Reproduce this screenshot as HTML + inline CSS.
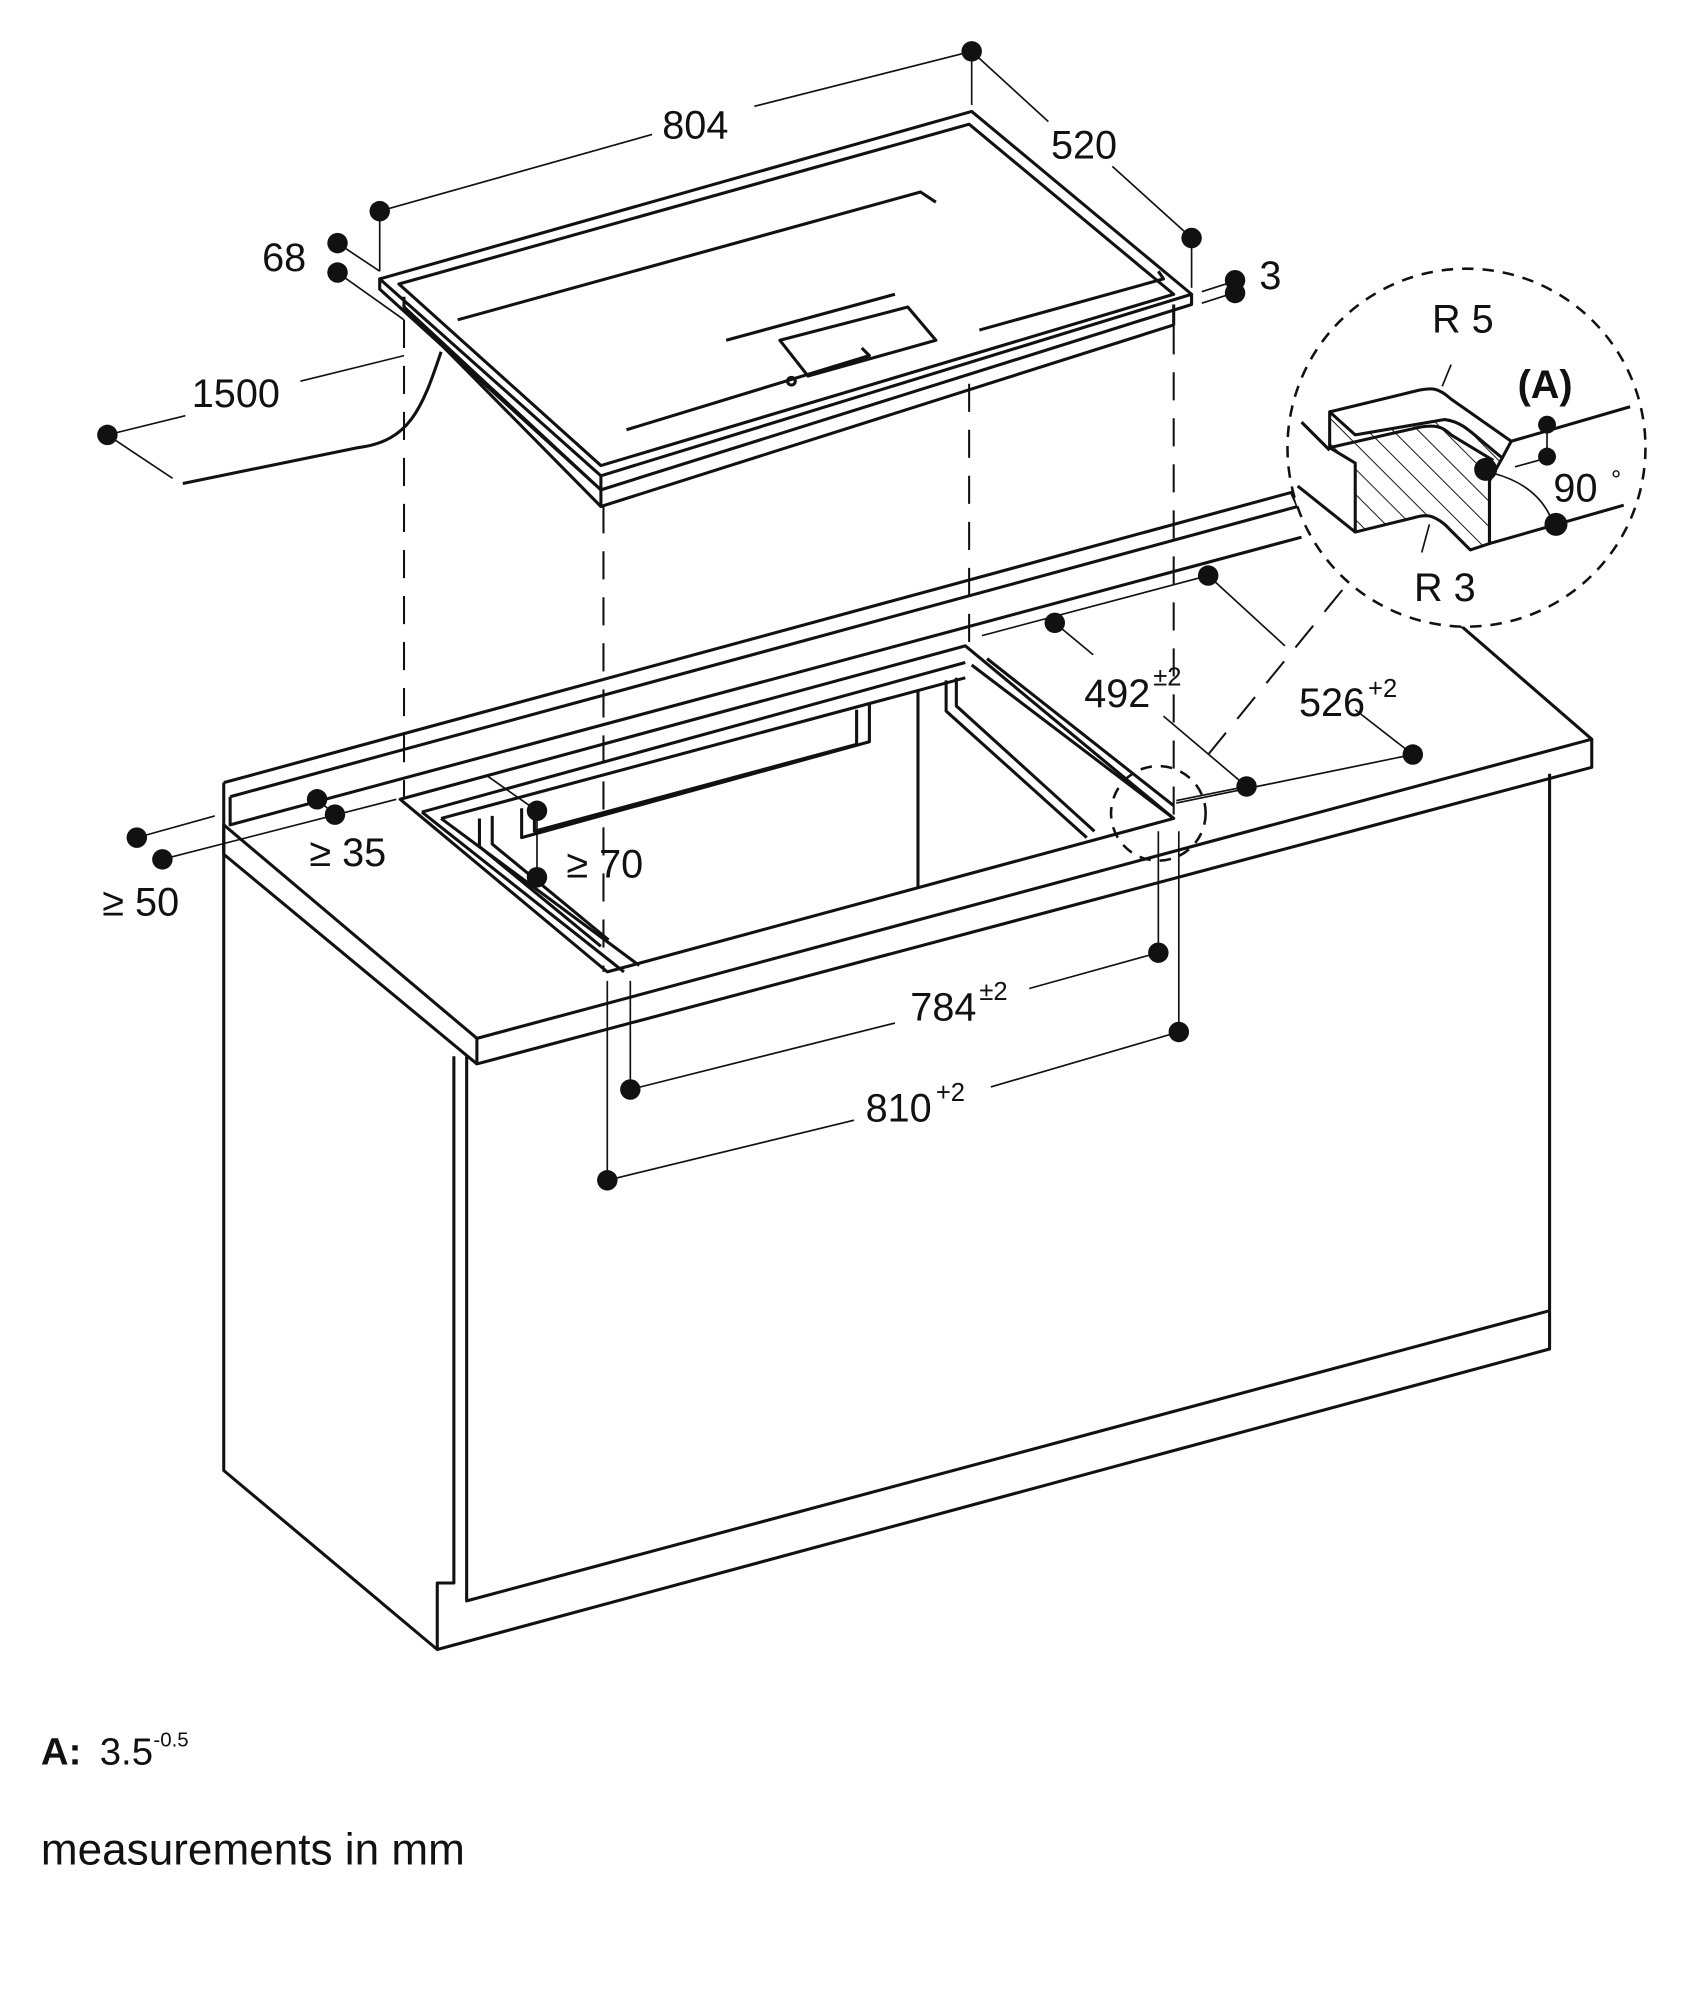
<!DOCTYPE html>
<html><head><meta charset="utf-8"><style>
html,body{margin:0;padding:0;background:#fff}
svg{display:block}
text{font-family:"Liberation Sans",sans-serif;fill:#111}
</style></head><body>
<svg width="1703" height="2000" viewBox="0 0 1332 1564" xmlns="http://www.w3.org/2000/svg">
<defs>
<pattern id="h" width="14" height="14" patternUnits="userSpaceOnUse" patternTransform="rotate(-45)">
<line x1="0" y1="0" x2="0" y2="14" stroke="#111" stroke-width="1.5"/></pattern>
</defs>
<g fill="none" stroke="#111" stroke-width="2.4" stroke-linejoin="round">
<polygon points="297,218 760,87 932,230 470,372" fill="#fff"/>
<polyline points="297,218 297,226 470,383 932,238 932,230"/>
<line x1="470" y1="372" x2="470" y2="383"/>
<polyline points="316,232 316,240 470,383"/>
<polygon points="312,222 758,97 918,230 470,364"/>
<polyline points="918,238 918,254 470,396 470,383"/>
<polyline points="316,240 470,396"/>
<polyline points="358,250 720,150 732,158"/>
<polyline points="490,336 680,278 674,272"/>
<polyline points="568,266 700,230"/>
<polyline points="766,258 910,218 906,212"/>
<polygon points="610,266 710,240 732,266 632,294"/>
<circle cx="619" cy="298" r="3"/>
<path d="M345,275 C330,320 320,345 280,350 L143,378"/>
<polyline points="175,612 1010,385 1015,396 180,623"/>
<polyline points="175,612 175,668"/>
<polyline points="180,623 180,645 1018,420"/>
<polyline points="1140,487 1245,578 373,812 175,645"/>
<polyline points="175,645 175,668 373,832 1245,600 1245,578"/>
<line x1="373" y1="812" x2="373" y2="832"/>
<polyline points="175,668 175,1150 342,1290 1212,1055 1212,1025"/>
<line x1="1212" y1="605" x2="1212" y2="1025"/>
<polyline points="355,826 355,1238 342,1238 342,1290"/>
<polyline points="365,826 365,1252 1212,1025"/>
<polygon points="313,625 755,505 918,640 475,760" fill="#fff"/>
<polyline points="330,635 755,518"/>
<polyline points="345,640 755,530"/>
<polyline points="330,635 488,760"/>
<polyline points="345,640 500,755"/>
<polyline points="375,640 375,662 470,740"/>
<polyline points="385,638 385,660 476,735"/>
<polyline points="408,632 408,655 680,580 680,550"/>
<polyline points="418,632 418,650 670,582 670,555"/>
<polyline points="740,532 740,556 850,655"/>
<polyline points="748,530 748,552 856,650"/>
<polyline points="760,520 918,640"/>
<polyline points="772,515 918,630"/>
<line x1="718" y1="540" x2="718" y2="695"/>
</g>
<g fill="none" stroke="#111" stroke-width="1.6" stroke-dasharray="22,14">
<line x1="316" y1="250" x2="316" y2="625"/>
<line x1="472" y1="395" x2="472" y2="760"/>
<line x1="758" y1="300" x2="758" y2="505"/>
<line x1="918" y1="255" x2="918" y2="640"/>
<line x1="945" y1="590" x2="1055" y2="455"/>
</g>
<g fill="none" stroke="#111" stroke-width="2" stroke-dasharray="9,7">
<circle cx="906" cy="636" r="37"/>
<circle cx="1147" cy="350" r="140" fill="#fff"/>
</g>
<g stroke="#111" stroke-width="1.3" fill="none">
<line x1="297" y1="165" x2="510" y2="105"/><line x1="590" y1="83" x2="760" y2="40"/>
<line x1="297" y1="165" x2="297" y2="212"/><line x1="760" y1="40" x2="760" y2="82"/>
<line x1="760" y1="40" x2="820" y2="95"/><line x1="870" y1="130" x2="932" y2="186"/>
<line x1="932" y1="186" x2="932" y2="225"/>
<line x1="264" y1="190" x2="297" y2="212"/><line x1="264" y1="213" x2="316" y2="250"/>
<line x1="940" y1="228" x2="965" y2="220"/><line x1="940" y1="237" x2="965" y2="229"/>
<line x1="84" y1="340" x2="145" y2="325"/><line x1="235" y1="298" x2="316" y2="278"/>
<line x1="84" y1="340" x2="135" y2="374"/>
<line x1="107" y1="655" x2="168" y2="638"/><line x1="127" y1="672" x2="310" y2="625"/>
<line x1="248" y1="625" x2="262" y2="637"/>
<line x1="380" y1="606" x2="420" y2="634"/><line x1="420" y1="634" x2="420" y2="686"/>
<line x1="768" y1="497" x2="945" y2="450"/><line x1="945" y1="450" x2="1005" y2="505"/>
<line x1="1060" y1="555" x2="1105" y2="590"/><line x1="920" y1="628" x2="1105" y2="590"/>
<line x1="825" y1="487" x2="855" y2="512"/><line x1="910" y1="560" x2="975" y2="615"/>
<line x1="920" y1="626" x2="975" y2="615"/>
<line x1="906" y1="650" x2="906" y2="745"/><line x1="922" y1="650" x2="922" y2="807"/>
<line x1="493" y1="767" x2="493" y2="852"/><line x1="475" y1="767" x2="475" y2="923"/>
<line x1="493" y1="852" x2="700" y2="800"/><line x1="805" y1="773" x2="906" y2="745"/>
<line x1="475" y1="923" x2="668" y2="876"/><line x1="775" y1="850" x2="922" y2="807"/>
</g>
<g stroke="#111" stroke-width="2.4" fill="none" stroke-linejoin="round">
<path d="M1040,322 L1040,350 L1060,362 L1060,416 L1105,405 C1115,402 1120,402 1130,410 L1150,430 L1165,425 L1165,376 L1175,358 C1150,338 1145,330 1130,328 L1060,340 Z" fill="url(#h)"/>
<path d="M1040,322 L1110,305 C1120,303 1125,303 1135,312 L1182,345 L1175,358"/>
<path d="M1040,350 L1110,334 C1122,332 1128,333 1135,340 L1168,360"/>
<line x1="1018" y1="330" x2="1040" y2="352"/>
<line x1="1015" y1="380" x2="1060" y2="416"/>
<line x1="1182" y1="345" x2="1275" y2="318"/>
<line x1="1165" y1="425" x2="1270" y2="395"/>
<line x1="1165" y1="376" x2="1165" y2="425"/>
</g>
<g stroke="#111" stroke-width="1.3" fill="none">
<path d="M1168,370 Q1205,380 1215,410"/>
<line x1="1210" y1="332" x2="1210" y2="358"/>
<line x1="1185" y1="365" x2="1210" y2="358"/>
<line x1="1128" y1="302" x2="1135" y2="285"/>
<line x1="1118" y1="410" x2="1112" y2="432"/>
</g>
<g fill="#111">
<circle cx="760" cy="40" r="8"/><circle cx="297" cy="165" r="8"/><circle cx="932" cy="186" r="8"/>
<circle cx="264" cy="190" r="8"/><circle cx="264" cy="213" r="8"/>
<circle cx="966" cy="219" r="8"/><circle cx="966" cy="229" r="8"/>
<circle cx="84" cy="340" r="8"/>
<circle cx="107" cy="655" r="8"/><circle cx="127" cy="672" r="8"/>
<circle cx="248" cy="625" r="8"/><circle cx="262" cy="637" r="8"/>
<circle cx="420" cy="634" r="8"/><circle cx="420" cy="686" r="8"/>
<circle cx="825" cy="487" r="8"/><circle cx="945" cy="450" r="8"/>
<circle cx="975" cy="615" r="8"/><circle cx="1105" cy="590" r="8"/>
<circle cx="906" cy="745" r="8"/><circle cx="922" cy="807" r="8"/>
<circle cx="493" cy="852" r="8"/><circle cx="475" cy="923" r="8"/>
<circle cx="1210" cy="332" r="7"/><circle cx="1210" cy="357" r="7"/>
<circle cx="1162" cy="367" r="9"/><circle cx="1217" cy="410" r="9"/>
</g>
<g font-size="31">
<text x="518" y="108">804</text>
<text x="822" y="124">520</text>
<text x="205" y="212">68</text>
<text x="985" y="226">3</text>
<text x="150" y="318">1500</text>
<text x="1120" y="260">R 5</text>
<text x="1187" y="311" font-weight="bold">(A)</text>
<text x="1215" y="392">90</text><text x="1260" y="382" font-size="20">°</text>
<text x="1106" y="470">R 3</text>
<text x="848" y="553">492</text><text x="902" y="536" font-size="20">±2</text>
<text x="1016" y="560">526</text><text x="1070" y="545" font-size="20">+2</text>
<text x="242" y="677">≥ 35</text>
<text x="443" y="686">≥ 70</text>
<text x="80" y="716">≥ 50</text>
<text x="712" y="798">784</text><text x="766" y="782" font-size="20">±2</text>
<text x="677" y="877">810</text><text x="732" y="861" font-size="20">+2</text>
<text x="32" y="1380" font-weight="bold" font-size="30">A:</text>
<text x="78" y="1380" font-size="30">3.5</text><text x="120" y="1366" font-size="16">-0.5</text>
<text x="32" y="1458" font-size="34.5">measurements in mm</text>
</g>
</svg>
</body></html>
